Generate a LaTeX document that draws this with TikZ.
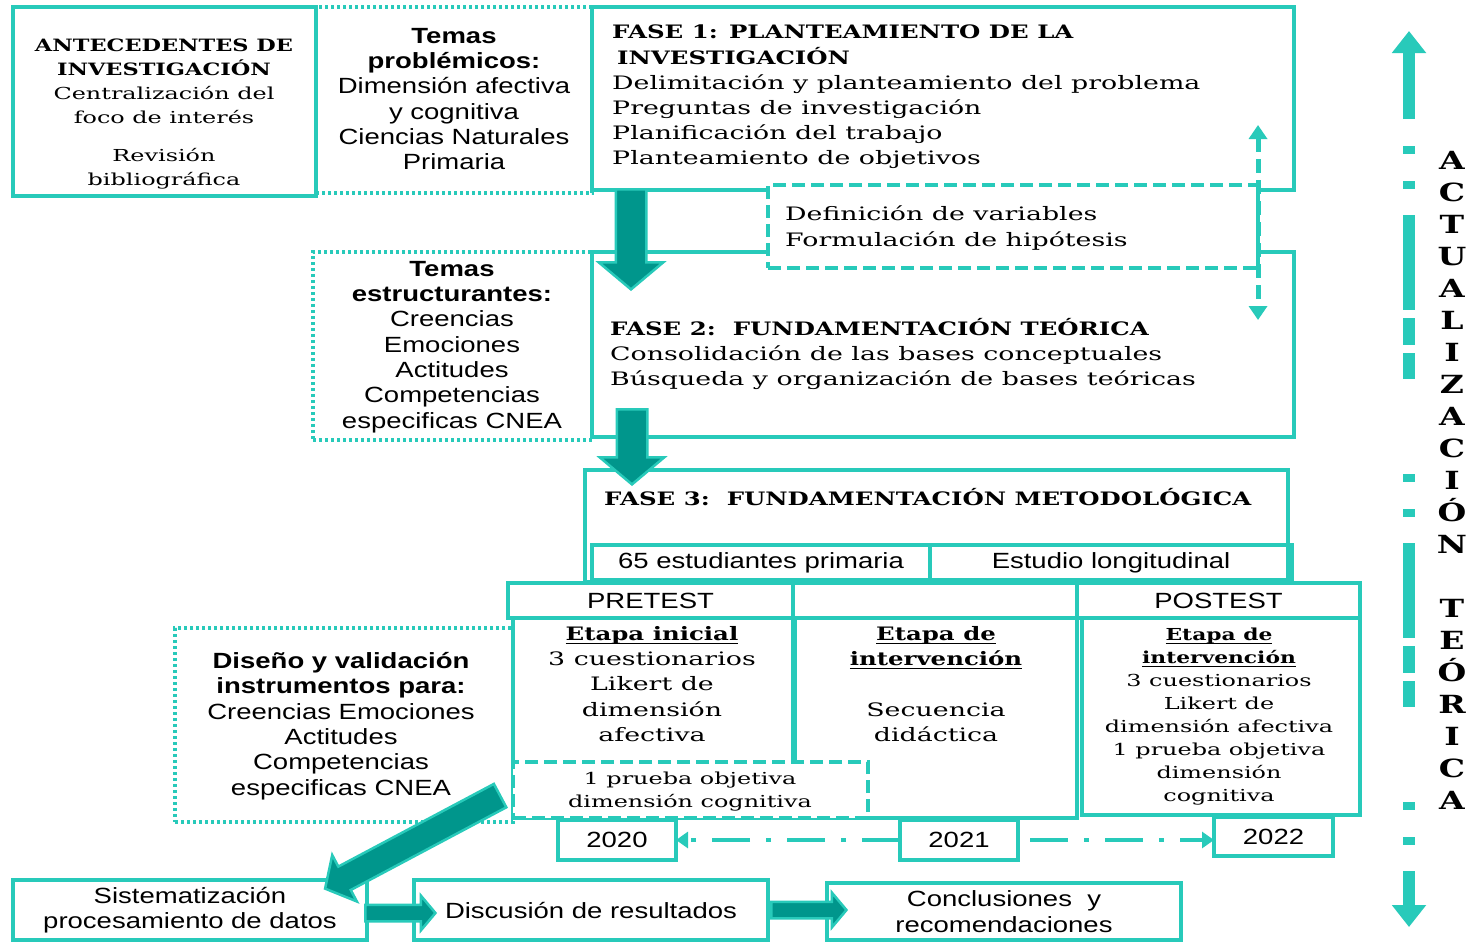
\documentclass[tikz,border=0pt]{standalone}
\usepackage{fontspec}
\usetikzlibrary{fit,calc,shapes.arrows,arrows.meta}

\newfontfamily\srf{DejaVu Serif}[FakeStretch=1.45]
\newfontfamily\srfb{DejaVu Serif}[FakeStretch=1.32]
\newfontfamily\snf{Liberation Sans}[FakeStretch=1.25]

\definecolor{tealline}{RGB}{40,202,186}
\definecolor{tealdark}{RGB}{0,150,140}

\newcommand\fsans{\snf\fontsize{22pt}{25.3pt}\selectfont}
\newcommand\fser{\srf\fontsize{18.5pt}{25.2pt}\selectfont}
\newcommand\fhead{\srfb\bfseries\fontsize{18.5pt}{25.2pt}\selectfont}
\newcommand\fserA{\srf\fontsize{16.5pt}{24pt}\selectfont}
\newcommand\fheadA{\srfb\bfseries\fontsize{17pt}{24pt}\selectfont}
\newcommand\fsmall{\srf\fontsize{16.5pt}{23pt}\selectfont}
\newcommand\fsmallb{\srfb\bfseries\fontsize{16.5pt}{23pt}\selectfont}
\newcommand\uline[1]{\leavevmode\setbox0=\hbox{#1}\rlap{\rule[-3.5pt]{\wd0}{1.5pt}}\box0}

% block arrow drawn as a rotated single-arrow node between two points
\newcommand\blockarrow[5]{%
  \path let \p1=(#2), \p2=(#3),
    \n1={atan2(\y2-\y1,\x2-\x1)}, \n2={veclen(\x2-\x1,\y2-\y1)} in
    node[bigarrow, inner ysep=#4, single arrow head extend=#5,
         minimum height=\n2, rotate=\n1] (#1) at ($(#2)!0.5!(#3)$) {};}

\tikzset{
  solidbox/.style={draw=tealline, line width=4pt, inner sep=0pt, outer sep=0pt},
  dotbox/.style={draw=tealline, line width=3.5pt, dash pattern=on 3pt off 3pt,
                 inner sep=0pt, outer sep=0pt},
  dashbox/.style={draw=tealline, line width=3.5pt, dash pattern=on 13pt off 6pt,
                  fill=white, inner sep=0pt, outer sep=0pt},
  txt/.style={inner sep=0pt, align=center, text=black},
  ltxt/.style={inner sep=0pt, align=left, anchor=west, text=black},
  bigarrow/.style={shape=single arrow, fill=tealdark, draw=tealline,
                   line width=2.5pt, inner xsep=0pt, outer sep=0pt,
                   single arrow tip angle=100, single arrow head indent=0pt},
  yeararrow/.style={draw=tealline, line width=4.5pt,
                    dash pattern=on 38pt off 16pt on 5pt off 16pt},
}

\begin{document}
\begin{tikzpicture}[x=1pt,y=-1pt]
\useasboundingbox (0,0) rectangle (1472,943);

% ---------- dotted boxes ----------
\node[dotbox, fit={(316,7) (592,193)}] (temprob) {};
\node[dotbox, fit={(313,252) (592,440)}] (temestr) {};
\node[dotbox, fit={(175,628) (513,822)}] (diseno) {};

% ---------- solid boxes ----------
\node[solidbox, fit={(13,7) (316,196)}] (ante) {};
\node[solidbox, fit={(592,7) (1294,190)}] (fase1) {};
\node[solidbox, fit={(592,252) (1294,437)}] (fase2) {};
\node[dashbox, fit={(768,185) (1258,268)}] (defvar) {};

\node[solidbox, fit={(585,470) (1288,582)}] (fase3) {};
\node[solidbox, fit={(592,545) (930,580)}] (nest) {};
\node[solidbox, fit={(930,545) (1292,580)}] (long) {};

\node[solidbox, fit={(508,583) (793,618)}] (pre) {};
\node[solidbox, fit={(793,583) (1077,618)}] (mid) {};
\node[solidbox, fit={(1077,583) (1360,618)}] (post) {};
\node[solidbox, fit={(513,618) (793,818)}] (col1) {};
\node[solidbox, fit={(795,618) (1077,818)}] (col2) {};
\node[solidbox, fit={(1082,618) (1360,815)}] (col3) {};
\node[dashbox, fit={(513,762) (868,818)}] (prueba) {};

\node[solidbox, fit={(558,820) (676,860)}] (y2020) {};
\node[solidbox, fit={(900,820) (1018,860)}] (y2021) {};
\node[solidbox, fit={(1214,817) (1333,856)}] (y2022) {};

\node[solidbox, fit={(13,880) (367,940)}] (sist) {};
\node[solidbox, fit={(414,880) (768,940)}] (disc) {};
\node[solidbox, fit={(827,883) (1181,940)}] (concl) {};

% ---------- texts ----------
\node[txt, font=\fserA] (anteT) at (164,114)
  {\fheadA ANTECEDENTES DE\\\fheadA INVESTIGACIÓN\\Centralización del\\foco de interés\\[14pt]Revisión\\bibliográfica};
\node[txt, font=\fsans] (temprobT) at (454,99)
  {\bfseries Temas\\\bfseries problémicos:\\Dimensión afectiva\\y cognitiva\\Ciencias Naturales\\Primaria};
\node[ltxt, font=\fser] (fase1T) at (612,97)
  {\fhead FASE 1: PLANTEAMIENTO DE LA\\\fhead\hspace*{5pt}INVESTIGACIÓN\\Delimitación y planteamiento del problema\\Preguntas de investigación\\Planificación del trabajo\\Planteamiento de objetivos};
\node[ltxt, font=\fser] (defvarT) at (785,228)
  {Definición de variables\\Formulación de hipótesis};
\node[txt, font=\fsans] (temestrT) at (452,347)
  {\bfseries Temas\\\bfseries estructurantes:\\Creencias\\Emociones\\Actitudes\\Competencias\\especificas CNEA};
\node[ltxt, font=\fser] (fase2T) at (610,354)
  {\fhead FASE 2:\ \ FUNDAMENTACIÓN TEÓRICA\\Consolidación de las bases conceptuales\\Búsqueda y organización de bases teóricas};
\node[ltxt, font=\fhead] (fase3T) at (604,497) {FASE 3:\ \ FUNDAMENTACIÓN METODOLÓGICA};

\node[txt, font=\fsans] at (nest.center) {65 estudiantes primaria};
\node[txt, font=\fsans] at (long.center) {Estudio longitudinal};
\node[txt, font=\fsans] at (pre.center) {PRETEST};
\node[txt, font=\fsans] at (post.center) {POSTEST};

\node[txt, font=\fser] (col1T) at (652,684)
  {\uline{\fhead Etapa inicial}\\3 cuestionarios\\Likert de\\dimensión\\afectiva};
\node[txt, font=\fsmall] (pruebaT) at (690,792)
  {1 prueba objetiva\\dimensión cognitiva};
\node[txt, font=\fser] (col2T) at (936,684)
  {\uline{\fhead Etapa de}\\\uline{\fhead intervención}\\[25pt]Secuencia\\didáctica};
\node[txt, font=\fsmall] (col3T) at (1219,717)
  {\uline{\fsmallb Etapa de}\\\uline{\fsmallb intervención}\\3 cuestionarios\\Likert de\\dimensión afectiva\\1 prueba objetiva\\dimensión\\cognitiva};
\node[txt, font=\fsans] (disenoT) at (341,726)
  {\bfseries Diseño y validación\\\bfseries instrumentos para:\\Creencias Emociones\\Actitudes\\Competencias\\especificas CNEA};

\node[txt, font=\fsans] at (y2020.center) {2020};
\node[txt, font=\fsans] at (y2021.center) {2021};
\node[txt, font=\fsans] at (y2022.center) {2022};

\node[txt, font=\fsans] at (sist.center) {Sistematización\\procesamiento de datos};
\node[txt, font=\fsans] at (disc.center) {Discusión de resultados};
\node[txt, font=\fsans] at (concl.center) {Conclusiones\ \ y\\recomendaciones};

\node[txt, font=\srfb\bfseries\fontsize{25pt}{32pt}\selectfont] (actT) at (1452,480)
  {A\\C\\T\\U\\A\\L\\I\\Z\\A\\C\\I\\Ó\\N\\[32pt]T\\E\\Ó\\R\\I\\C\\A};

% ---------- connectors ----------
\coordinate (dvTop) at ($(defvar.north east)+(0,-60)$);
\coordinate (dvBot) at ($(defvar.south east)+(0,52)$);
\draw[tealline, line width=5pt, dash pattern=on 14pt off 7pt,
      {Triangle[width=18pt,length=14pt]}-{Triangle[width=18pt,length=14pt]}]
  (dvTop) -- (dvBot);

\draw[yeararrow, -{Triangle[width=16pt,length=12pt]}] (y2021.west) -- (y2020.east);
\draw[yeararrow, shorten <=12pt, -{Triangle[width=16pt,length=12pt]}]
  (y2021.east) -- (y2021.east -| y2022.west);

% vertical double arrow on the right
\coordinate (raTop) at (1409,31);
\coordinate (raA) at (1409,119);
\coordinate (raB) at (1409,872);
\coordinate (raBot) at (1409,927);
\draw[tealline, line width=12pt, -{Triangle[width=33pt,length=22pt]}] (raA) -- (raTop);
\draw[tealline, line width=12pt, -{Triangle[width=33pt,length=22pt]}] (raB) -- (raBot);
\draw[tealline, line width=12pt,
      dash pattern=on 0pt off 27pt on 8pt off 27pt on 8pt off 26pt on 68pt]
  (raA) -- (raB);

% block arrows between phases
\coordinate (a1s) at ($(fase1.south west)+(39,-7)$);
\coordinate (a1e) at ($(fase2.north west)+(39,31)$);
\blockarrow{arr1}{a1s}{a1e}{14pt}{17pt}
\coordinate (a2s) at ($(fase2.south west)+(40,-34)$);
\coordinate (a2e) at ($(fase3.north west)+(47,8)$);
\blockarrow{arr2}{a2s}{a2e}{14pt}{17pt}
\coordinate (a3s) at ($(diseno.south east)+(-8,-29)$);
\coordinate (a3e) at ($(sist.north west)+(317,6)$);
\blockarrow{arr3}{a3s}{a3e}{12pt}{13pt}
\coordinate (a4s) at ($(sist.east)+(-5,3)$);
\coordinate (a4e) at ($(disc.west)+(18,3)$);
\blockarrow{arr4}{a4s}{a4e}{7pt}{9pt}
\coordinate (a5s) at ($(disc.east)+(0,0)$);
\coordinate (a5e) at ($(concl.west)+(16,-1.5)$);
\blockarrow{arr5}{a5s}{a5e}{7pt}{9pt}

\end{tikzpicture}
\end{document}
